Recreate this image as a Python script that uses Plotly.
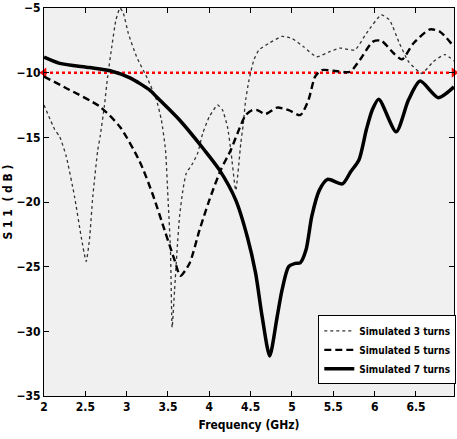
import plotly.graph_objects as go

# ---- data ----
freq_3 = [2.0, 2.13, 2.19, 2.27, 2.37, 2.45, 2.51, 2.55, 2.59, 2.65, 2.68, 2.73, 2.77, 2.82, 2.87, 2.92, 2.96,
          3.02, 3.12, 3.26, 3.36, 3.42, 3.47, 3.5, 3.53, 3.55, 3.58, 3.61, 3.64, 3.68, 3.72, 3.8, 3.86,
          3.92, 4.0, 4.1, 4.16, 4.22, 4.26, 4.32, 4.38, 4.41, 4.44, 4.48, 4.54, 4.6, 4.72, 4.88, 5.0,
          5.14, 5.3, 5.45, 5.58, 5.76, 5.9, 6.08, 6.18, 6.3, 6.41, 6.57, 6.71, 6.85, 6.96]
s11_3 = [-12.5, -14.4, -14.95, -16.5, -19.6, -22.7, -24.6, -22.9, -19.6, -16.0, -14.9, -12.6, -10.3, -8.0, -5.93, -5.0, -5.4,
         -6.96, -8.77, -10.57, -12.1, -13.66, -15.98, -19.7, -23.7, -29.7, -26.8, -23.7, -21.1, -19.1, -17.8, -17.0, -16.2,
         -14.7, -13.4, -12.5, -12.9, -14.2, -15.98, -19.1, -15.5, -14.0, -12.1, -10.57, -9.0, -8.25, -7.73, -7.2, -7.35,
         -8.0, -8.77, -8.4, -8.1, -8.25, -6.96, -5.54, -5.93, -7.73, -9.15, -10.05, -9.15, -8.6, -9.1]

freq_5 = [2.0, 2.27, 2.67, 2.92, 3.16, 3.32, 3.46, 3.58, 3.65, 3.76, 3.88, 4.0, 4.14, 4.26, 4.34, 4.44, 4.52,
          4.58, 4.68, 4.82, 4.96, 5.1, 5.2, 5.28, 5.36, 5.5, 5.7, 5.82, 5.98, 6.08, 6.23, 6.33, 6.47, 6.67, 6.79, 6.96]
s11_5 = [-10.3, -11.2, -12.6, -14.2, -16.9, -19.5, -22.2, -24.5, -25.7, -24.75, -22.2, -19.85, -17.5, -15.98, -14.7, -13.28, -12.9,
         -12.9, -13.2, -12.7, -12.9, -13.28, -12.1, -10.3, -9.8, -9.85, -9.93, -9.02, -7.6, -7.53, -8.5, -8.97, -7.73, -6.65, -6.83, -8.0]

freq_7 = [2.0, 2.19, 2.55, 2.8, 3.04, 3.28, 3.36, 3.64, 3.94, 4.12, 4.32, 4.46, 4.56, 4.64, 4.73, 4.82, 4.88,
          4.96, 5.04, 5.1, 5.17, 5.24, 5.33, 5.43, 5.61, 5.71, 5.81, 5.9, 5.97, 6.05, 6.26, 6.41, 6.55, 6.77, 6.96]
s11_7 = [-8.8, -9.28, -9.6, -9.85, -10.4, -11.35, -11.86, -13.66, -15.98, -17.5, -19.85, -22.7, -25.5, -28.9, -31.9, -28.9, -26.8,
         -25.0, -24.75, -24.7, -23.7, -21.1, -19.1, -18.25, -18.6, -17.66, -16.75, -14.4, -12.9, -12.06, -14.57, -12.1, -10.65, -11.93, -11.1]

ref_x = [2.0, 6.96]
ref_level = [-10, -10]

x_ticks = [2, 2.5, 3, 3.5, 4, 4.5, 5, 5.5, 6, 6.5]
x_ticklabels = ["2", "2.5", "3", "3.5", "4", "4.5", "5", "5.5", "6", "6.5"]
y_ticks = [-35, -30, -25, -20, -15, -10, -5]

FONT = "DejaVu Sans Condensed, Liberation Sans Narrow, Arial, sans-serif"

fig = go.Figure()

fig.add_trace(go.Scatter(
    x=ref_x, y=ref_level, mode="lines+markers", showlegend=False,
    line=dict(color="#ff0000", width=2.5, dash="dot"),
    marker=dict(symbol=["triangle-left", "triangle-right"], size=9, color="#ff0000"),
    cliponaxis=False, hoverinfo="skip"))

fig.add_trace(go.Scatter(
    x=freq_3, y=s11_3, mode="lines", name="Simulated 3 turns",
    line=dict(color="#333333", width=1.3, dash="dot", shape="spline", smoothing=0.5)))
fig.add_trace(go.Scatter(
    x=freq_5, y=s11_5, mode="lines", name="Simulated 5 turns",
    line=dict(color="black", width=2.4, dash="7px,4px", shape="spline", smoothing=0.7)))
fig.add_trace(go.Scatter(
    x=freq_7, y=s11_7, mode="lines", name="Simulated 7 turns",
    line=dict(color="black", width=3.5, shape="spline", smoothing=0.7)))

axis_common = dict(
    showline=True, linecolor="black", linewidth=1, mirror="ticks",
    ticks="inside", ticklen=5, tickcolor="black", showgrid=False, zeroline=False,
    automargin=False,
    tickfont=dict(family=FONT, size=12, color="black", weight="bold"),
)

fig.update_layout(
    width=457, height=439,
    margin=dict(l=44, r=1, t=8, b=43),
    paper_bgcolor="white", plot_bgcolor="#f0f0f0",
    font=dict(family=FONT, color="black"),
    xaxis=dict(range=[2, 6.96], tickvals=x_ticks, ticktext=x_ticklabels,
               title=dict(text="Frequency (GHz)", font=dict(family=FONT, size=12, weight="bold"), standoff=7),
               **axis_common),
    yaxis=dict(range=[-35, -5], tickvals=y_ticks,
               title=dict(text="S 1 1  ( d B )", font=dict(family=FONT, size=12, weight="bold"), standoff=1),
               **axis_common),
    legend=dict(x=0.669, y=0.03, xanchor="left", yanchor="bottom",
                bgcolor="white", bordercolor="black", borderwidth=1,
                font=dict(family=FONT, size=10, color="black", weight="bold"),
                tracegroupgap=0, itemwidth=30),
    showlegend=True,
)

fig.write_html("out.html", config={"displayModeBar": False},
               post_script="document.body.style.margin='0';document.body.style.overflow='hidden';")
